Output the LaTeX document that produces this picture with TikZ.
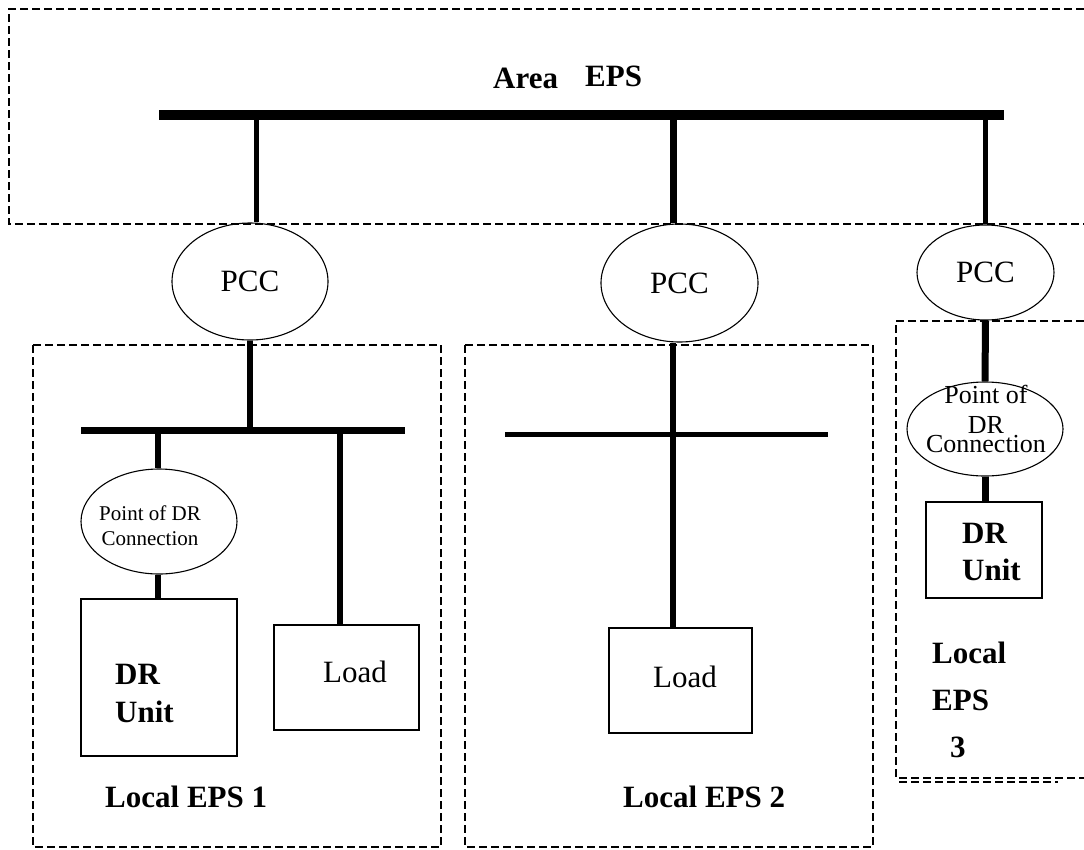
\documentclass[tikz,border=0pt]{standalone}
\usepackage{fontspec}
\setmainfont{Liberation Serif}
\usetikzlibrary{shapes.geometric}
\begin{document}
\begin{tikzpicture}[x=1pt,y=-1pt,
  region/.style={line width=1.6pt, dash pattern=on 8pt off 4pt},
  pccnode/.style={ellipse, draw, line width=1.1pt, inner sep=0pt, font=\fontsize{31}{36}\selectfont},
  podrnode/.style={ellipse, draw, line width=1.1pt, inner sep=0pt},
  unitbox/.style={rectangle, draw, line width=1.5pt, inner sep=0pt},
  boldlabel/.style={font=\fontsize{31}{38}\selectfont\bfseries, anchor=base west, inner sep=0pt, align=left},
  plainlabel/.style={font=\fontsize{31}{36}\selectfont, anchor=base west, inner sep=0pt}
]
\useasboundingbox (0,0) rectangle (1084,849);

% dashed regions
\draw[region] (1084,9) -- (9,9) -- (9,224) -- (1084,224);
\draw[region] (33,345) rectangle (441,847);
\draw[region] (465,345) rectangle (873,847);
\draw[region] (1084,321) -- (896,321) -- (896,778) -- (1084,778);
\draw[region] (899,782) -- (1058,782);

% nodes
\node[pccnode, minimum width=156pt, minimum height=117pt] (pcc1) at (250,281.5) {PCC};
\node[pccnode, minimum width=157pt, minimum height=118pt] (pcc2) at (679.5,283) {PCC};
\node[pccnode, minimum width=137pt, minimum height=95pt] (pcc3) at (985.5,272.5) {PCC};

\node[podrnode, minimum width=156pt, minimum height=105pt] (podr1) at (159,521.5) {};
\node[podrnode, minimum width=156pt, minimum height=94pt] (podr3) at (985,429) {};

\node[unitbox, minimum width=156pt, minimum height=157pt] (dr1) at (159,677.5) {};
\node[unitbox, minimum width=145pt, minimum height=105pt] (load1) at (346.5,677.5) {};
\node[unitbox, minimum width=143pt, minimum height=105pt] (load2) at (680.5,680.5) {};
\node[unitbox, minimum width=116pt, minimum height=96pt] (dr3) at (984,550) {};

% texts (multi-line nodes: base = baseline of the last line)
\node[boldlabel] (areat) at (493,88) {Area};
\node[boldlabel] (epst) at (585,86) {EPS};
\node[font=\fontsize{21}{25}\selectfont, align=center, anchor=base, inner sep=0pt] (podr1t) at (150,545) {Point of DR\\Connection};
\node[font=\fontsize{26}{30}\selectfont, align=center, anchor=base, inner sep=0pt] (podr3t) at (986,452) {Point of\\DR\\[-11pt]Connection};
\node[boldlabel] (dr1t) at (115,722) {DR\\Unit};
\node[boldlabel] (dr3t) at (962,580) {DR\\[-1pt]Unit};
\node[plainlabel] (load1t) at (323,682) {Load};
\node[plainlabel] (load2t) at (653,687) {Load};
\node[boldlabel] (loc1) at (105,807) {Local EPS 1};
\node[boldlabel] (loc2) at (623,807) {Local EPS 2};
\node[boldlabel, font=\fontsize{31}{47}\selectfont\bfseries] (loc3) at (932,757) {Local\\EPS\\\hspace*{18pt}3};

% buses
\coordinate (tbA) at (159,115);
\coordinate (tbB) at (1004,115);
\draw[line width=10pt] (tbA) -- (tbB);
\coordinate (lbA) at (81,430);
\coordinate (lbB) at (405,430);
\draw[line width=7pt] (lbA) -- (lbB);
\coordinate (mbA) at (505,434);
\coordinate (mbB) at (828,434);
\draw[line width=5pt] (mbA) -- (mbB);

% drops from area bus
\coordinate (t1) at (256,115);
\coordinate (t2) at (673,115);
\coordinate (t3) at (985.5,115);
\draw[line width=5pt] (t1) -- (t1 |- pcc1.north);
\draw[line width=7pt] (t2) -- (t2 |- pcc2.north);
\draw[line width=5pt] (t3) -- (pcc3.north);

% local 1
\draw[line width=6.5pt] (pcc1.south) -- (pcc1.south |- lbA);
\coordinate (l1) at (158,430);
\coordinate (l2) at (340,430);
\draw[line width=6.5pt] (l1) -- (l1 |- podr1.north);
\draw[line width=6.5pt] (podr1.south -| l1) -- (l1 |- dr1.north);
\draw[line width=6.5pt] (l2) -- (l2 |- load1.north);

% local 2
\draw[line width=6.5pt] (pcc2.south -| t2) -- (t2 |- load2.north);

% local 3
\draw[line width=7pt] (pcc3.south) -- (podr3.north);
\draw[line width=7pt] (podr3.south) -- (podr3.south |- dr3.north);
\end{tikzpicture}
\end{document}
